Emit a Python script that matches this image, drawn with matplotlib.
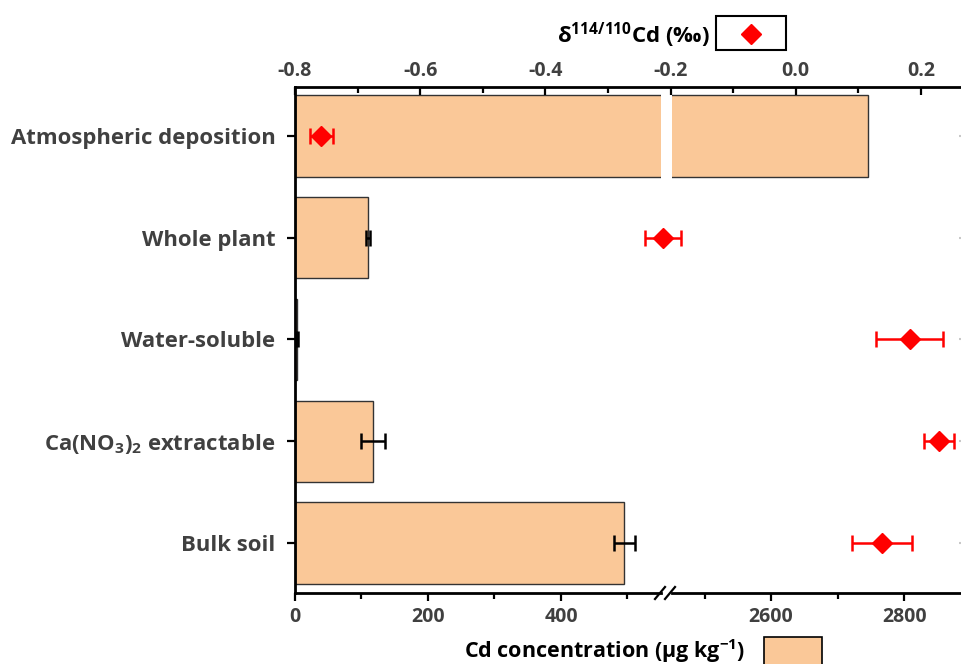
import numpy as np
import matplotlib
matplotlib.use("Agg")
import matplotlib.pyplot as plt
from matplotlib.lines import Line2D
from matplotlib.patches import Rectangle

# ── data ─────────────────────────────────────────────────────
categories = ["Atmospheric deposition", "Whole plant", "Water-soluble",
              r"Ca(NO$_3$)$_2$ extractable", "Bulk soil"]
cd_conc   = [2746, 110, 3, 118, 495]       # µg/kg
cd_err    = [0, 3, 1, 18, 16]
delta     = [-0.758, -0.212, 0.182, 0.229, 0.138]   # permil
delta_err = [0.018, 0.029, 0.053, 0.024, 0.048]

delta_ticks  = [-0.8, -0.6, -0.4, -0.2, 0.0, 0.2]
delta_labels = ["-0.8", "-0.6", "-0.4", "-0.2", "0.0", "0.2"]

FONT = "Open Sans"
plt.rcParams["font.family"] = [FONT, "DejaVu Sans"]
plt.rcParams["font.weight"] = "bold"
plt.rcParams["mathtext.fontset"] = "custom"
plt.rcParams["mathtext.rm"] = FONT + ":bold"
plt.rcParams["mathtext.it"] = FONT + ":bold"
plt.rcParams["mathtext.bf"] = FONT + ":bold"

BAR = "#FAC898"
GREY = "#404040"
W, H = 962, 664

fig = plt.figure(figsize=(W / 100, H / 100), dpi=100)

y0, y1 = 87, 593
bot, hgt = 1 - y1 / H, (y1 - y0) / H
ax_l = fig.add_axes([295 / W, bot, (661 - 295) / W, hgt])
ax_r = fig.add_axes([672 / W, bot, (966 - 672) / W, hgt])
ax_t = fig.add_axes([295 / W, bot, (966 - 295) / W, hgt])

pos = np.arange(len(categories))
ylim = (4.49, -0.48)

# ── bars on broken concentration axis ───────────────────────
for ax in (ax_l, ax_r):
    ax.barh(pos, cd_conc, height=0.8, color=BAR, edgecolor="#333333", lw=1)
    ax.set_ylim(*ylim)
    ax.spines["top"].set_visible(False)
    ax.spines["right"].set_visible(False)
    ax.spines["bottom"].set_linewidth(2)
    ax.tick_params(axis="x", which="major", direction="out", length=6,
                   width=1.6, labelsize=14, labelcolor=GREY, pad=4)
    ax.tick_params(axis="x", which="minor", direction="out", length=4,
                   width=1.6)

ax_l.errorbar(cd_conc, pos, xerr=cd_err, fmt="none", ecolor="black",
              elinewidth=1.8, capsize=6, capthick=1.8)
ax_l.set_xlim(0, 550.4)
ax_l.set_xticks([0, 200, 400])
ax_l.set_xticks([100, 300, 500], minor=True)
ax_l.spines["left"].set_linewidth(2)
ax_l.set_yticks(pos, categories)
ax_l.tick_params(axis="y", direction="out", length=6, width=1.6,
                 labelsize=15.9, labelcolor=GREY, pad=8)

ax_r.set_xlim(2451, 2893)
ax_r.set_xticks([2600, 2800])
ax_r.set_xticks([2500, 2700], minor=True)
ax_r.spines["left"].set_visible(False)
ax_r.set_yticks([])

# break marks
for cx in (660, 670):
    fig.add_artist(Line2D([(cx - 5) / W, (cx + 5) / W],
                          [1 - (y1 + 6) / H, 1 - (y1 - 6) / H],
                          color="black", lw=1.6, transform=fig.transFigure))

# ── delta values on top axis ────────────────────────────────
ax_t.set_facecolor("none")
ax_t.errorbar(delta, pos, xerr=delta_err, fmt="D", color="red", ms=10,
              ecolor="red", elinewidth=1.8, capsize=6, capthick=1.8)
ax_t.set_xlim(-0.8, 0.272)
ax_t.set_ylim(*ylim)
for s in ("bottom", "left", "right"):
    ax_t.spines[s].set_visible(False)
ax_t.spines["top"].set_linewidth(2)
ax_t.xaxis.set_ticks_position("top")
ax_t.set_xticks(delta_ticks, delta_labels)
ax_t.set_xticks([-0.7, -0.5, -0.3, -0.1, 0.1], minor=True)
ax_t.tick_params(axis="x", which="major", direction="in", length=6,
                 width=1.6, labelsize=14, labelcolor=GREY, pad=4)
ax_t.tick_params(axis="x", which="minor", direction="in", length=4,
                 width=1.6)
ax_t.set_yticks(pos)
ax_t.tick_params(axis="y", left=False, right=True, labelleft=False,
                 direction="in", length=5, width=1.5, color="#c8c8c8")

# ── legend boxes ────────────────────────────────────────────
fig.text(710 / W, 1 - 35 / H, r"δ$^{114/110}$Cd (‰)", ha="right",
         va="center", fontsize=16, fontweight="bold", color="black")
fig.add_artist(Rectangle((716 / W, 1 - 50 / H), 70 / W, 34 / H,
                         facecolor="white", edgecolor="black", lw=1.5,
                         transform=fig.transFigure))
fig.add_artist(Line2D([751 / W], [1 - 34 / H], marker="D", ms=10,
                      color="red", transform=fig.transFigure))

fig.text(745 / W, 1 - 651 / H, r"Cd concentration (µg kg$^{-1}$)",
         ha="right", va="center", fontsize=15.5, fontweight="bold",
         color="black")
fig.add_artist(Rectangle((764 / W, 1 - 672 / H), 58 / W, 35 / H,
                         facecolor=BAR, edgecolor="black", lw=1.2,
                         transform=fig.transFigure))

fig.savefig("out.png", dpi=100)
